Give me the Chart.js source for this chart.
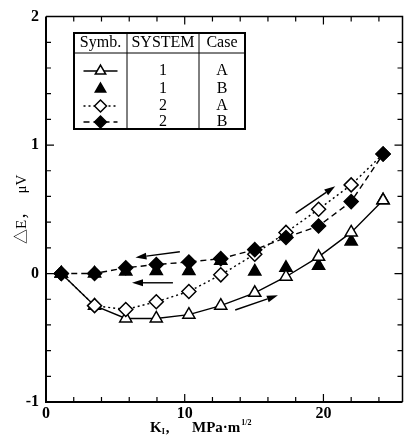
<!DOCTYPE html>
<html>
<head>
<meta charset="utf-8">
<script src="https://cdn.jsdelivr.net/npm/chart.js@4/dist/chart.umd.min.js"></script>
<style>
  html, body { margin: 0; padding: 0; background: #fff; }
  canvas { display: block; }
</style>
</head>
<body>
<canvas id="chart" width="411" height="446"></canvas>
<script>
(function () {
    "use strict";

    // K_I values (MPa·m^1/2) and ΔE (μV) per series
    const kValues = [1.1, 3.5, 5.75, 7.95, 10.3, 12.6, 15.05, 17.3, 19.65, 22.0, 24.3];
    const sys1A   = [0, -0.25, -0.35, -0.35, -0.32, -0.25, -0.15, -0.025, 0.13, 0.32, 0.57];
    const sys1B   = [0, 0, 0.015, 0.02, 0.02, 0.1, 0.016, 0.045, 0.06, 0.25, 0.57];
    const sys2A   = [0, -0.25, -0.28, -0.22, -0.14, -0.01, 0.15, 0.32, 0.50, 0.69, 0.93];
    const sys2B   = [0, 0, 0.045, 0.07, 0.09, 0.116, 0.186, 0.28, 0.37, 0.56, 0.93];

    const xTickLabels = [0, 10, 20];
    const yTickLabels = [-1, 0, 1, 2];

    const legendHeader = ["Symb.", "SYSTEM", "Case"];
    const legendSystem = ["1", "1", "2", "2"];
    const legendCase   = ["A", "B", "A", "B"];

    // loading / unloading arrows: [K from, ΔE from, K to, ΔE to]
    const arrows = [
        [9.65, 0.17, 6.45, 0.124],
        [9.15, -0.072, 6.2, -0.072],
        [18.0, 0.47, 20.85, 0.68],
        [13.64, -0.284, 16.72, -0.17]
    ];

    const SERIF = "'Liberation Serif', 'Times New Roman', serif";

    function pts(ys) {
        return kValues.map((k, i) => ({ x: k, y: ys[i] }));
    }

    const styles = [
        { style: "triangle", fill: "#fff", dash: [],     line: true  },  // 1 A
        { style: "triangle", fill: "#000", dash: [],     line: false },  // 1 B
        { style: "rectRot",  fill: "#fff", dash: [2, 3], line: true  },  // 2 A
        { style: "rectRot",  fill: "#000", dash: [6, 4], line: true  }   // 2 B
    ];

    function makeSet(label, ys, st, order) {
        return {
            label,
            data: pts(ys),
            showLine: st.line,
            borderColor: "#000",
            borderWidth: 1.4,
            borderDash: st.dash,
            pointStyle: st.style,
            pointRadius: 7,
            pointBackgroundColor: st.fill,
            pointBorderColor: "#000",
            pointBorderWidth: 1.5,
            tension: 0,
            order
        };
    }

    // frame with inward ticks on all four sides
    const framePlugin = {
        id: "frame",
        beforeDatasetsDraw(chart) {
            const { ctx, chartArea: a, scales: { x, y } } = chart;
            ctx.save();
            ctx.strokeStyle = "#000";
            ctx.lineWidth = 1.5;
            ctx.beginPath();
            ctx.moveTo(a.left, a.top);
            ctx.lineTo(a.right, a.top);
            ctx.lineTo(a.right, a.bottom);
            ctx.stroke();
            ctx.lineWidth = 2;
            ctx.beginPath();
            ctx.moveTo(a.left, a.top);
            ctx.lineTo(a.left, a.bottom);
            ctx.lineTo(a.right, a.bottom);
            ctx.stroke();

            ctx.lineWidth = 1.2;
            ctx.beginPath();
            for (let v = 2; v <= 24; v += 2) {
                const px = x.getPixelForValue(v);
                const len = v % 10 === 0 ? 8 : 5;
                ctx.moveTo(px, a.bottom);
                ctx.lineTo(px, a.bottom - len);
                ctx.moveTo(px, a.top);
                ctx.lineTo(px, a.top + len);
            }
            for (let i = -4; i <= 9; i++) {
                const v = i * 0.2;
                const py = y.getPixelForValue(v);
                const len = i % 5 === 0 ? 8 : 5;
                ctx.moveTo(a.left, py);
                ctx.lineTo(a.left + len, py);
                ctx.moveTo(a.right, py);
                ctx.lineTo(a.right - len, py);
            }
            ctx.stroke();

            // arrows
            ctx.lineWidth = 1.4;
            ctx.fillStyle = "#000";
            arrows.forEach(([k0, e0, k1, e1]) => {
                const x0 = x.getPixelForValue(k0), y0 = y.getPixelForValue(e0);
                const x1 = x.getPixelForValue(k1), y1 = y.getPixelForValue(e1);
                const ang = Math.atan2(y1 - y0, x1 - x0);
                const hl = 11, hw = 3.5;
                const bx = x1 - hl * Math.cos(ang), by = y1 - hl * Math.sin(ang);
                ctx.beginPath();
                ctx.moveTo(x0, y0);
                ctx.lineTo(bx, by);
                ctx.stroke();
                ctx.beginPath();
                ctx.moveTo(x1, y1);
                ctx.lineTo(bx + hw * Math.sin(ang), by - hw * Math.cos(ang));
                ctx.lineTo(bx - hw * Math.sin(ang), by + hw * Math.cos(ang));
                ctx.closePath();
                ctx.fill();
            });
            ctx.restore();
        }
    };

    // axis titles and the symbol table
    const annotatePlugin = {
        id: "annotate",
        afterDraw(chart) {
            const { ctx } = chart;
            ctx.save();
            ctx.fillStyle = "#000";
            ctx.textBaseline = "alphabetic";

            // x title: K_I, MPa·m^1/2
            const big = "bold 15px " + SERIF, small = "bold 8px " + SERIF;
            let tx = 150;
            ctx.textAlign = "left";
            ctx.font = big;
            ctx.fillText("K", tx, 432);
            tx += ctx.measureText("K").width;
            ctx.font = small;
            ctx.fillText("I", tx, 434);
            tx += ctx.measureText("I").width + 1;
            ctx.font = big;
            ctx.fillText(",", tx, 432);
            tx = 192;
            ctx.fillText("MPa·m", tx, 432);
            tx += ctx.measureText("MPa·m").width + 1;
            ctx.font = small;
            ctx.fillText("1/2", tx, 425);

            // y title, reading upward from its lower end
            ctx.save();
            ctx.translate(26, 244);
            ctx.rotate(-Math.PI / 2);
            ctx.textAlign = "left";
            ctx.font = "15px " + SERIF + ", 'Noto Sans CJK JP'";
            ctx.fillText("△E，   μV", 0, 0);
            ctx.restore();

            // symbol table
            const L = 74, R = 245, T = 33, B = 129, H = 53;
            const c1 = 127, c2 = 199;
            ctx.fillStyle = "#fff";
            ctx.fillRect(L, T, R - L, B - T);
            ctx.strokeStyle = "#000";
            ctx.lineWidth = 1;
            ctx.beginPath();
            ctx.moveTo(L, H); ctx.lineTo(R, H);
            ctx.moveTo(c1, T); ctx.lineTo(c1, B);
            ctx.moveTo(c2, T); ctx.lineTo(c2, B);
            ctx.stroke();
            ctx.lineWidth = 2;
            ctx.strokeRect(L, T, R - L, B - T);

            ctx.fillStyle = "#000";
            ctx.textAlign = "center";
            ctx.textBaseline = "middle";
            ctx.font = "16px " + SERIF;
            const cx = [(L + c1) / 2, (c1 + c2) / 2, (c2 + R) / 2];
            legendHeader.forEach((t, i) => ctx.fillText(t, cx[i], 43));

            const rowY = [71, 89, 106, 122];
            rowY.forEach((ry, i) => {
                ctx.fillStyle = "#000";
                ctx.fillText(legendSystem[i], cx[1], ry);
                ctx.fillText(legendCase[i], cx[2], ry);
                const st = styles[i];
                if (st.line) {
                    ctx.save();
                    ctx.lineWidth = 1.3;
                    ctx.setLineDash(st.dash);
                    ctx.beginPath();
                    ctx.moveTo(cx[0] - 17, ry);
                    ctx.lineTo(cx[0] + 17, ry);
                    ctx.stroke();
                    ctx.restore();
                }
                ctx.fillStyle = st.fill;
                ctx.strokeStyle = "#000";
                ctx.lineWidth = 1.5;
                Chart.helpers.drawPoint(ctx, { pointStyle: st.style, radius: 6, rotation: 0, borderWidth: 1.5 }, cx[0], ry);
            });
            ctx.restore();
        }
    };

    function render() {
        const ctx = document.getElementById("chart").getContext("2d");
        new Chart(ctx, {
            type: "scatter",
            data: {
                datasets: [
                    makeSet("2 B", sys2B, styles[3], 0),
                    makeSet("2 A", sys2A, styles[2], 1),
                    makeSet("1 A", sys1A, styles[0], 2),
                    makeSet("1 B", sys1B, styles[1], 3)
                ]
            },
            options: {
                responsive: false,
                animation: false,
                devicePixelRatio: 1,
                layout: { padding: { left: 0, right: 3, top: 16, bottom: 0 } },
                plugins: { legend: { display: false }, tooltip: { enabled: false } },
                scales: {
                    x: {
                        type: "linear",
                        min: 0,
                        max: 25.7,
                        afterFit: s => { s.height = 44; },
                        afterBuildTicks: s => { s.ticks = xTickLabels.map(v => ({ value: v })); },
                        grid: { display: false, drawTicks: false },
                        border: { display: false },
                        ticks: { color: "#000", padding: 2, font: { family: SERIF, size: 16, weight: "bold" } }
                    },
                    y: {
                        type: "linear",
                        min: -1,
                        max: 2,
                        afterFit: s => { s.width = 46; },
                        afterBuildTicks: s => { s.ticks = yTickLabels.map(v => ({ value: v })); },
                        grid: { display: false, drawTicks: false },
                        border: { display: false },
                        ticks: { color: "#000", padding: 7, font: { family: SERIF, size: 16, weight: "bold" } }
                    }
                }
            },
            plugins: [framePlugin, annotatePlugin]
        });
    }

    if (document.readyState === "loading") {
        document.addEventListener("DOMContentLoaded", render);
    } else {
        render();
    }
})();
</script>
</body>
</html>
